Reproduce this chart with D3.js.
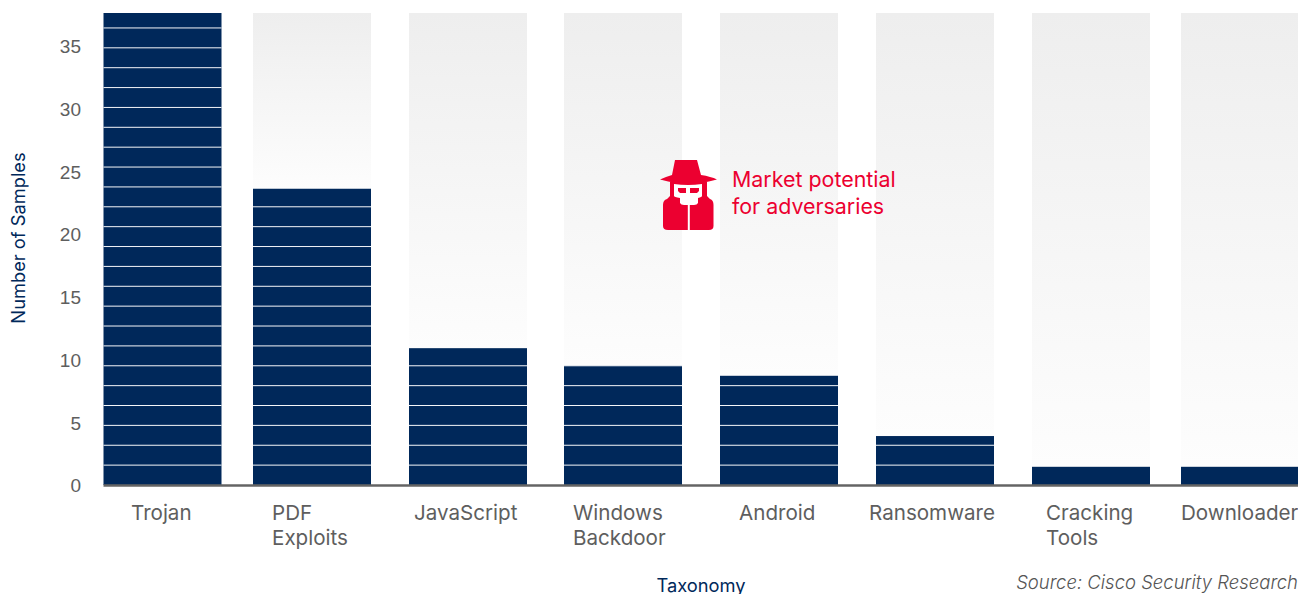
<!DOCTYPE html>
<html>
<head>
<meta charset="utf-8">
<script src="https://d3js.org/d3.v7.min.js"></script>
<style>
html, body { margin: 0; padding: 0; background: #fff; overflow: hidden; }
svg { display: block; }
text { font-family: Inter, "Open Sans", sans-serif; }
</style>
</head>
<body>
<div id="chart"></div>
<script>
var categories = ["Trojan", "PDF Exploits", "JavaScript", "Windows Backdoor", "Android", "Ransomware", "Cracking Tools", "Downloader"];
var samples = [37.6, 23.6, 10.9, 9.5, 8.7, 3.9, 1.45, 1.45];
var yTicks = [0, 5, 10, 15, 20, 25, 30, 35];
// each block in the bars stands for this many samples
var blockSize = 1.583;

var navy = "#00285a", gray = "#5e5e5e", red = "#ec0030";
var barW = 118;

var svg = d3.select("#chart")
        .append("svg")
        .attr("width", 1298)
        .attr("height", 594);

var y = d3.scaleLinear().domain([0, 37.6]).range([485, 13]);
// bars are not evenly spaced in the original, so left edges go in an ordinal scale
var x = d3.scaleOrdinal().domain(categories)
        .range([103.5, 253, 409, 564, 720, 876, 1032, 1181]);
// left edge of the label block
var labelX = d3.scaleOrdinal().domain(categories)
        .range([131, 272, 414, 573, 739, 869, 1046, 1181]);

var data = categories.map((c, i) => {
    return {name: c, value: samples[i]};
});

var grad = svg.append("defs").append("linearGradient")
        .attr("id", "fade")
        .attr("x1", 0).attr("y1", 0)
        .attr("x2", 0).attr("y2", 1);
grad.append("stop").attr("offset", "0%").attr("stop-color", "#eeeeee");
grad.append("stop").attr("offset", "100%").attr("stop-color", "#fdfdfd");

// backdrops fading down to each bar (Trojan fills the whole height)
svg.selectAll("rect.back")
        .data(data.slice(1))
        .enter()
        .append("rect")
        .attr("class", "back")
        .attr("x", (d) => x(d.name))
        .attr("y", y.range()[1])
        .attr("width", barW)
        .attr("height", (d) => y(d.value) - y.range()[1])
        .attr("fill", "url(#fade)");

svg.selectAll("rect.bar")
        .data(data)
        .enter()
        .append("rect")
        .attr("class", "bar")
        .attr("x", (d) => x(d.name))
        .attr("y", (d) => y(d.value))
        .attr("width", barW)
        .attr("height", (d) => y(0) - y(d.value))
        .attr("fill", navy);

// white separators between blocks
data.forEach((d) => {
    var n = Math.floor(d.value / blockSize);
    svg.selectAll(null)
            .data(d3.range(1, n + 1))
            .enter()
            .append("line")
            .attr("x1", x(d.name))
            .attr("x2", x(d.name) + barW)
            .attr("y1", (k) => y(k * blockSize))
            .attr("y2", (k) => y(k * blockSize))
            .attr("stroke", "#f4f6f9")
            .attr("stroke-width", 1);
});

// baseline
svg.append("line")
        .attr("x1", 103.5)
        .attr("x2", 1298)
        .attr("y1", y(0) + 0.5)
        .attr("y2", y(0) + 0.5)
        .attr("stroke", "#646464")
        .attr("stroke-width", 2.4);

var yAxis = svg.append("g")
        .attr("transform", "translate(81,0)")
        .call(d3.axisLeft(y).tickValues(yTicks).tickSize(0).tickPadding(0));
yAxis.select(".domain").remove();
yAxis.selectAll("text")
        .attr("dy", "0.36em")
        .style("font-family", "'Liberation Sans', Arial, sans-serif")
        .style("font-size", "19px")
        .attr("fill", gray);

// category labels, wrapped on the space except single words
var labels = svg.selectAll("text.cat")
        .data(categories)
        .enter()
        .append("text")
        .attr("class", "cat")
        .attr("y", 520)
        .style("font-size", "20.6px")
        .style("font-weight", 400)
        .attr("fill", gray);
labels.selectAll("tspan")
        .data((d) => d.split(" ").map((w) => ({w: w, cat: d})))
        .enter()
        .append("tspan")
        .attr("x", (d) => labelX(d.cat))
        .attr("dy", (d, i) => i ? 25 : 0)
        .text((d) => d.w);

svg.append("text")
        .attr("transform", "translate(25,238) rotate(-90)")
        .attr("text-anchor", "middle")
        .style("font-size", "18.3px")
        .style("font-weight", 400)
        .attr("fill", navy)
        .text("Number of Samples");

svg.append("text")
        .attr("x", 701)
        .attr("y", 592)
        .attr("text-anchor", "middle")
        .style("font-size", "18.3px")
        .style("font-weight", 400)
        .attr("fill", navy)
        .text("Taxonomy");

svg.append("text")
        .attr("x", 1298)
        .attr("y", 589)
        .attr("text-anchor", "end")
        .style("font-size", "18.5px")
        .style("font-weight", 300)
        .style("font-style", "italic")
        .attr("fill", "#555555")
        .text("Source: Cisco Security Research");

// hooded figure icon
var icon = svg.append("g")
        .attr("transform", "translate(660,160)")
        .attr("fill", red);
icon.append("path").attr("d", "M15,0 H37 L41,15 Q51,16.5 57,19.5 Q40,24 28.5,24 Q17,24 0,19.5 Q6,16.5 12,15 Z");
icon.append("path").attr("d", "M10,22 H47 V36 L50,39 Q53.5,40 53.5,45 V66 Q53.5,70 49,70 H29.8 V45 H27.8 V70 H8 Q3,70 3,66 V45 Q3,40 7,39 L10,36 Z");
icon.append("path").attr("d", "M14,24 Q28,26 42,24 V36 Q42,37 38,38 V43 Q37,45 34,45 H24 Q21,45 20,43 V38 Q14,37 14,36 Z").attr("fill", "#ffffff");
icon.append("path").attr("d", "M18,28 L26,28 V33 H20 L18,31 Z M30,28 L39,28 V31 L37,33 H30 Z");

var note = svg.append("g")
        .attr("fill", red)
        .style("font-size", "21.4px");
note.append("text").attr("x", 732).attr("y", 187).text("Market potential");
note.append("text").attr("x", 732).attr("y", 214).text("for adversaries");
</script>
</body>
</html>
